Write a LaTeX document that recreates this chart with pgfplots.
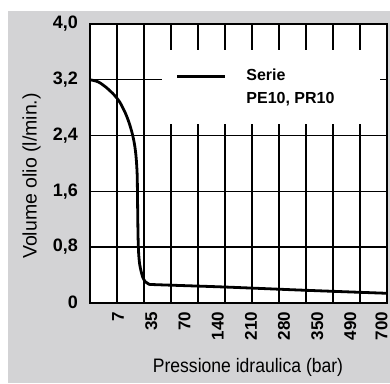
\documentclass[border=0pt]{standalone}
\usepackage{fontspec}
\setmainfont{Liberation Sans}
\newfontfamily\narrowfont[FakeStretch=0.9]{Liberation Sans}
\usepackage{pgfplots}
\pgfplotsset{compat=1.18}
\definecolor{bg}{RGB}{211,211,213}
\begin{document}
\begin{tikzpicture}[x=1pt,y=1pt]
\fill[white] (-90,-80.3) rectangle (300,302.7);
\fill[bg] (-82,-80.3) rectangle (300,291.7);
\begin{axis}[
  at={(0,0)}, anchor=south west,
  scale only axis, width=297pt, height=278.7pt,
  xmin=0, xmax=11, ymin=0, ymax=4,
  axis background/.style={fill=white},
  axis line style={line width=1.6pt},
  xtick={1.04,2.27,3.5,4.73,5.96,7.19,8.42,9.64,10.8},
  xticklabels={7,35,70,140,210,280,350,490,700},
  minor xtick={1,2,3,4,5,6,7,8,9,10},
  xmajorgrids=false, xminorgrids=true,
  ytick={0,0.8,1.6,2.4,3.2,4},
  yticklabels={0,{0,8},{1,6},{2,4},{3,2},{4,0}},
  ymajorgrids=true,
  grid style={black, line width=1.1pt},
  minor grid style={black, line width=1.1pt},
  major tick length=0pt, minor tick length=0pt,
  tick style={draw=none},
  xticklabel shift=9pt,
  yticklabel shift=12pt,
  xticklabel style={rotate=90, anchor=east, inner sep=0pt, font=\fontsize{17}{17}\selectfont\bfseries},
  yticklabel style={anchor=east, inner sep=0pt, font=\fontsize{18}{18}\selectfont\bfseries},
  xlabel={Pressione idraulica (bar)},
  ylabel={Volume olio (l/min.)},
  every axis x label/.style={at={(axis description cs:0.532,-0.2522)}, anchor=base, inner sep=0pt, font=\narrowfont\fontsize{19.5}{19.5}\selectfont},
  every axis y label/.style={at={(axis description cs:-0.1795,0.4546)}, rotate=90, anchor=base, inner sep=0pt, font=\fontsize{19.5}{19.5}\selectfont},
  legend image code/.code={\draw[line width=2.8pt] (0pt,4pt) -- (48pt,4pt);},
  legend style={draw=none, fill=none, inner sep=0pt, column sep=19.7pt,
    at={(axis description cs:0.2886,0.8568)}, anchor=north west,
    font=\fontsize{16}{23}\selectfont\bfseries,
    nodes={inner sep=0pt}, cells={anchor=base west}},
]
\fill[white] (axis cs:2.667,2.565) rectangle (axis cs:10.74,3.627);
\addplot[black, line width=2.8pt, smooth, tension=0.5] coordinates {
  (0,3.2) (0.3,3.17) (0.6,3.09) (0.9,2.98) (1.1,2.88) (1.3,2.73) (1.45,2.58)
  (1.57,2.42) (1.65,2.27) (1.70,2.12) (1.73,1.97) (1.75,1.8) (1.76,1.5)
  (1.77,1.2) (1.78,0.95) (1.8,0.72) (1.84,0.55) (1.9,0.44) (1.96,0.36)
  (2.05,0.3) (2.18,0.266) (2.5,0.258) (5.0,0.225) (8.0,0.178) (11,0.135)
};
\addlegendentry{\begin{tabular}[t]{@{}l@{}}Serie\\PE10, PR10\end{tabular}}
\end{axis}
\pgfresetboundingbox
\path[use as bounding box] (-90,-80.3) rectangle (300,302.7);
\end{tikzpicture}
\end{document}
